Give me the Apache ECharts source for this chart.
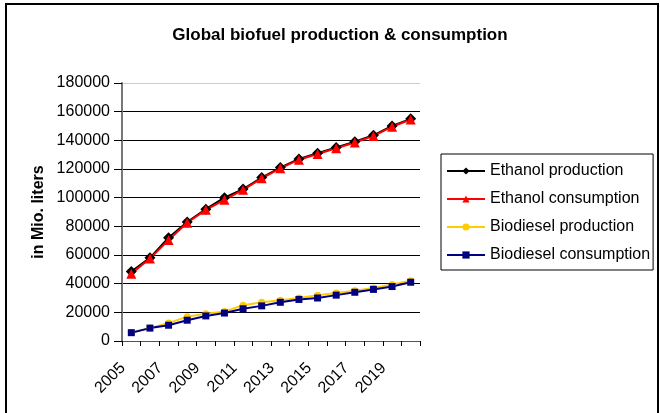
<!DOCTYPE html>
<html>
<head>
<meta charset="utf-8">
<script src="https://cdn.jsdelivr.net/npm/echarts@6/dist/echarts.min.js"></script>
<style>
  html, body { margin: 0; padding: 0; background: #fff; }
  #chart { width: 660px; height: 413px; }
</style>
</head>
<body>
<div id="chart"></div>
<script>
// years on the x axis
const years = ['2005', '2006', '2007', '2008', '2009', '2010', '2011', '2012',
  '2013', '2014', '2015', '2016', '2017', '2018', '2019', '2020'];

// values in Mio. liters
const ethanolProduction = [48500, 58000, 72000, 83000, 92000, 100000, 106000, 114000,
  121000, 127000, 131000, 135000, 139000, 143500, 150000, 155000];
const ethanolConsumption = [47000, 57500, 70500, 82500, 91500, 98500, 105500, 113500,
  120500, 126500, 130500, 134500, 138500, 143000, 149500, 154500];
const biodieselProduction = [6000, 9000, 12500, 17000, 19000, 20500, 25000, 27000,
  28500, 30000, 32000, 33500, 35000, 37000, 39500, 42000];
const biodieselConsumption = [5800, 9000, 11000, 14500, 17500, 19500, 22500, 24500,
  27000, 29000, 30000, 32000, 34000, 36000, 38000, 41000];

const chart = echarts.init(document.getElementById('chart'));

const font = 'Liberation Sans, Arial, sans-serif';

function lineSeries(name, data, color, symbol, size) {
  return {
    name: name,
    type: 'line',
    data: data,
    symbol: symbol,
    symbolSize: size,
    showAllSymbol: true,
    lineStyle: { color: color, width: 2 },
    itemStyle: { color: color },
    animation: false
  };
}

const option = {
  backgroundColor: '#fff',
  textStyle: { fontFamily: font },
  title: {
    text: 'Global biofuel production & consumption',
    left: 335,
    textAlign: 'center',
    top: 22,
    textStyle: { fontFamily: font, fontSize: 17, fontWeight: 'bold', color: '#000' }
  },
  grid: { left: 122, right: 240, top: 83, bottom: 72 },
  legend: {
    orient: 'vertical',
    left: 441,
    top: 154,
    padding: [8, 3, 6, 5],
    itemWidth: 38,
    itemHeight: 9,
    itemGap: 10,
    borderColor: '#000',
    borderWidth: 1,
    textStyle: { fontFamily: font, fontSize: 16, color: '#000', lineHeight: 18 },
    data: ['Ethanol production', 'Ethanol consumption', 'Biodiesel production', 'Biodiesel consumption']
  },
  xAxis: {
    type: 'category',
    data: years,
    boundaryGap: true,
    axisLine: { lineStyle: { color: '#555', width: 1 } },
    axisTick: { show: true, interval: 0, length: 5, inside: false, lineStyle: { color: '#000' } },
    axisLabel: {
      interval: 1,
      rotate: 45,
      margin: 16,
      padding: [0, 12, 0, 0],
      fontFamily: font,
      fontSize: 16,
      color: '#000'
    },
    splitLine: { show: false }
  },
  yAxis: {
    type: 'value',
    min: 0,
    max: 180000,
    interval: 20000,
    name: 'in Mio. liters',
    nameLocation: 'middle',
    nameGap: 75,
    nameTextStyle: { fontFamily: font, fontSize: 16, fontWeight: 'bold', color: '#000' },
    axisLine: { show: true, lineStyle: { color: '#777', width: 2 } },
    axisTick: { show: true, length: 8, lineStyle: { color: '#000' } },
    axisLabel: {
      fontFamily: font,
      fontSize: 16,
      color: '#000',
      margin: 12,
      formatter: function (v) { return String(v); }
    },
    splitLine: {
      show: true,
      lineStyle: {
        color: ['#000', '#000', '#000', '#000', '#000', '#000', '#000', '#000', '#000', '#ccc'],
        width: 1
      }
    }
  },
  series: [
    lineSeries('Ethanol production', ethanolProduction, '#000000', 'diamond', 11),
    lineSeries('Ethanol consumption', ethanolConsumption, '#ff0000', 'triangle', 10),
    lineSeries('Biodiesel production', biodieselProduction, '#ffcc00', 'circle', 7),
    lineSeries('Biodiesel consumption', biodieselConsumption, '#000080', 'rect', 7)
  ],
  graphic: [{
    type: 'rect',
    shape: { x: 6, y: 4, width: 652, height: 420 },
    style: { fill: null, stroke: '#000', lineWidth: 2 },
    silent: true
  }]
};

chart.setOption(option);
</script>
</body>
</html>
